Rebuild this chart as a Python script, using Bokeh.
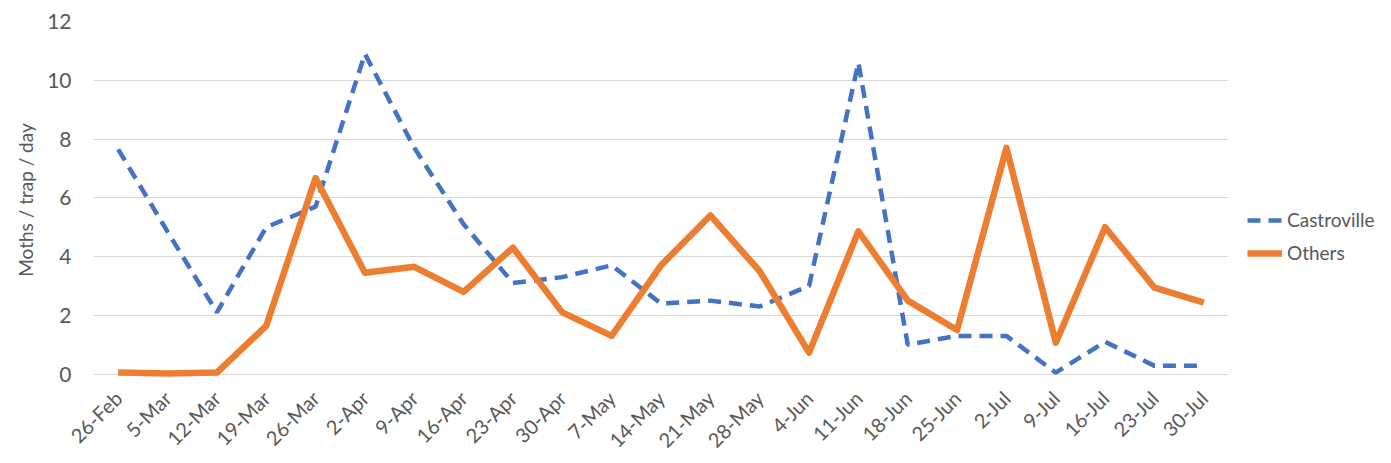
import math
from bokeh.plotting import figure
from bokeh.layouts import row
from bokeh.models import Range1d, Legend, LegendItem, ColumnDataSource
from bokeh.embed import file_html
from bokeh.resources import INLINE

dates = ["26-Feb", "5-Mar", "12-Mar", "19-Mar", "26-Mar", "2-Apr", "9-Apr", "16-Apr",
         "23-Apr", "30-Apr", "7-May", "14-May", "21-May", "28-May", "4-Jun", "11-Jun",
         "18-Jun", "25-Jun", "2-Jul", "9-Jul", "16-Jul", "23-Jul", "30-Jul"]
castroville = [7.65, 4.85, 2.1, 5.0, 5.7, 10.9, 7.7, 5.1, 3.1, 3.3, 3.7, 2.4, 2.5, 2.3,
               3.0, 10.6, 1.0, 1.3, 1.3, 0.05, 1.1, 0.28, 0.28]
others = [0.05, 0.02, 0.05, 1.64, 6.67, 3.45, 3.65, 2.8, 4.3, 2.1, 1.3, 3.7, 5.4, 3.5,
          0.73, 4.86, 2.5, 1.5, 7.7, 1.07, 5.0, 2.94, 2.43]
y_ticks = [0, 2, 4, 6, 8, 10, 12]
series_names = ["Castroville", "Others"]

FONT = "Lato"
GREY = "#595959"
BLUE = "#4472C4"
ORANGE = "#ED7D31"

src = ColumnDataSource(dict(d=dates, c=castroville, o=others))

p = figure(x_range=dates, y_range=Range1d(-0.15, 12), width=1228, height=463,
           output_backend="svg", toolbar_location=None,
           min_border_left=93, min_border_right=0, min_border_top=21, min_border_bottom=84)
p.outline_line_color = None
p.background_fill_color = "white"
p.border_fill_color = "white"

p.xgrid.grid_line_color = None
p.ygrid.grid_line_color = "#D9D9D9"
p.ygrid.grid_line_width = 1
p.yaxis.ticker = y_ticks

for ax in (p.xaxis[0], p.yaxis[0]):
    ax.axis_line_color = None
    ax.major_tick_line_color = None
    ax.minor_tick_line_color = None
    ax.major_label_text_font = FONT
    ax.major_label_text_color = GREY
    ax.major_label_text_font_size = "20px"

p.yaxis.major_label_text_font_size = "21px"
p.xaxis.major_label_orientation = math.pi / 4
p.xaxis.major_label_standoff = 10
p.yaxis.major_label_standoff = 16
p.yaxis.axis_label = "Moths / trap / day"
p.yaxis.axis_label_text_font = FONT
p.yaxis.axis_label_text_font_style = "normal"
p.yaxis.axis_label_text_font_size = "19px"
p.yaxis.axis_label_text_color = GREY
p.yaxis.axis_label_standoff = 7

p.line("d", "c", source=src, line_color=BLUE, line_width=4.5, line_dash="13 8")
p.line("d", "o", source=src, line_color=ORANGE, line_width=6.5, line_join="round")

# legend panel to the right of the plot area
q = figure(width=163, height=463, x_range=Range1d(0, 1), y_range=Range1d(0, 1),
           output_backend="svg", toolbar_location=None,
           min_border_left=0, min_border_right=0, min_border_top=0, min_border_bottom=0)
q.axis.visible = False
q.grid.visible = False
q.outline_line_color = None
q.border_fill_color = "white"
l1 = q.line(x=[-5, -4], y=[-5, -4], line_color=BLUE, line_width=4.5, line_dash="13 8")
l2 = q.line(x=[-5, -4], y=[-5, -4], line_color=ORANGE, line_width=6.5)

legend = Legend(items=[LegendItem(label=series_names[0], renderers=[l1]),
                       LegendItem(label=series_names[1], renderers=[l2])],
                location=(19, 114))
legend.label_text_font = FONT
legend.label_text_color = GREY
legend.label_text_font_size = "19px"
legend.glyph_width = 35
legend.glyph_height = 20
legend.label_height = 20
legend.label_standoff = 5
legend.spacing = 10
legend.padding = 0
legend.margin = 0
legend.border_line_color = None
legend.background_fill_alpha = 0
q.add_layout(legend, "center")

layout = row(p, q)
open("out.html", "w").write(file_html(layout, INLINE))
